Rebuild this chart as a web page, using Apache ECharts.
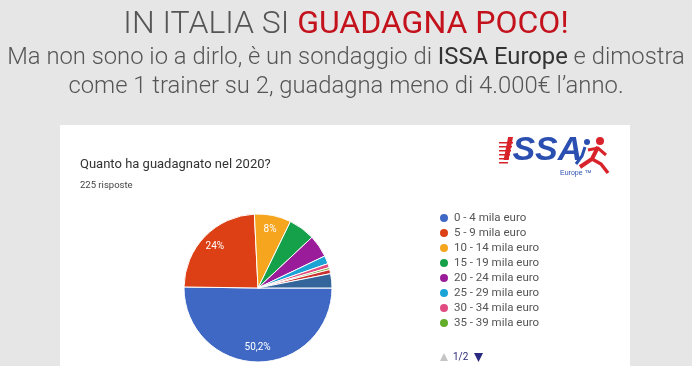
<!DOCTYPE html>
<html><head><meta charset="utf-8">
<script src="https://cdn.jsdelivr.net/npm/echarts@6/dist/echarts.min.js"></script>
<style>html,body{margin:0;padding:0;background:#e6e6e6;}#c{width:692px;height:366px;}</style>
</head><body><div id="c"></div>
<script>
const categories = ['0 - 4 mila euro','5 - 9 mila euro','10 - 14 mila euro','15 - 19 mila euro','20 - 24 mila euro','25 - 29 mila euro','30 - 34 mila euro','35 - 39 mila euro','40 - 44 mila euro','45 - 49 mila euro'];
const values = [113, 54, 18, 13, 11, 4, 2, 1, 2, 7];
const colors = ['#3e68c4','#dc4014','#f6a51e','#15a04a','#9a1c9a','#1ba3d5','#e24b80','#62ad2a','#c9302e','#33659a'];
const legendPage1 = categories.slice(0, 8);
const pagerText = '1/2';

const chart = echarts.init(document.getElementById('c'));
const data = categories.map((n,i)=>({name:n, value:values[i], itemStyle:{color:colors[i]}}));
const fmt = p => p.value >= 15 ? String(Number(p.percent.toFixed(1))).replace('.', ',') + '%' : '';
const red = '#d8232a', blue = '#2b4fb0';
chart.setOption({
  backgroundColor:'#e6e6e6',
  animation:false,
  graphic:[
    {type:'rect', shape:{x:60,y:125,width:570,height:260}, style:{fill:'#ffffff'}, z:-10},
    {type:'group', children:[
      {type:'rect', shape:{x:499,y:142,width:14,height:1.5}, style:{fill:red}},
      {type:'rect', shape:{x:499,y:146,width:13,height:1.5}, style:{fill:red}},
      {type:'rect', shape:{x:499,y:150,width:12,height:1.5}, style:{fill:red}},
      {type:'rect', shape:{x:499,y:154,width:11,height:1.5}, style:{fill:red}},
      {type:'rect', shape:{x:499,y:158,width:10,height:1.5}, style:{fill:red}},
      {type:'rect', shape:{x:499,y:162,width:9,height:1.5}, style:{fill:red}},
      {type:'text', style:{x:503,y:134,text:'{r|I}{b|SSA}',
        rich:{r:{fontFamily:'Liberation Sans',fontStyle:'italic',fontWeight:'bold',fontSize:34,fill:red},
              b:{fontFamily:'Liberation Sans',fontStyle:'italic',fontWeight:'bold',fontSize:34,fill:blue}}}},
      {type:'text', style:{x:560,y:170,text:'Europe \u2122',font:'7px "Liberation Sans"',fill:blue}},
      {type:'circle', shape:{cx:587,cy:142,r:3}, style:{fill:blue}},
      {type:'polyline', shape:{points:[[585,147],[582,156],[576,164]]}, style:{stroke:blue,lineWidth:3,fill:null}},
      {type:'circle', shape:{cx:600,cy:141,r:4}, style:{fill:red}},
      {type:'polyline', shape:{points:[[598,147],[592,159],[580,167]]}, style:{stroke:red,lineWidth:4,fill:null}},
      {type:'polyline', shape:{points:[[592,159],[601,164],[608,173]]}, style:{stroke:red,lineWidth:3.5,fill:null}},
      {type:'polyline', shape:{points:[[588,150],[598,148],[606,155]]}, style:{stroke:red,lineWidth:3,fill:null}}
    ]},
    {type:'group', children:[
      {type:'polygon', shape:{points:[[440,361],[448,361],[444,353]]}, style:{fill:'#c4c4c4'}},
      {type:'text', style:{x:453,y:352,text:pagerText,font:'10px Roboto',fill:'#2a2a7a'}},
      {type:'polygon', shape:{points:[[474,353],[483,353],[478.5,362]]}, style:{fill:'#2a2a80'}}
    ]}
  ],
  title:[
    {text:'{g|IN ITALIA SI }{r|GUADAGNA POCO!}', left:'center', top:4,
     textStyle:{rich:{g:{fontFamily:'Roboto',fontWeight:300,fontSize:32,color:'#555555'},r:{fontFamily:'Roboto',fontWeight:400,fontSize:32,color:'#c4121c'}}}},
    {text:'Ma non sono io a dirlo, è un sondaggio di {b|ISSA Europe} e dimostra', left:'center', top:41,
     textStyle:{fontFamily:'Roboto',fontWeight:300,fontSize:23.8,color:'#555555',
       rich:{b:{fontFamily:'Roboto',fontWeight:400,fontSize:23.8,color:'#333333'}}}},
    {text:'come 1 trainer su 2, guadagna meno di 4.000€ l\u2019anno.', left:'center', top:70,
     textStyle:{fontFamily:'Roboto',fontWeight:300,fontSize:23.8,color:'#555555'}},
    {text:'Quanto ha guadagnato nel 2020?', left:75, top:153, textStyle:{fontFamily:'Roboto',fontWeight:400,fontSize:13,color:'#333333'}},
    {text:'225 risposte', left:75, top:176, textStyle:{fontFamily:'Roboto',fontWeight:400,fontSize:9.5,color:'#444444'}}
  ],
  legend:{type:'plain', orient:'vertical', left:433, top:207, icon:'circle', itemWidth:10, itemHeight:10, itemGap:3,
    textStyle:{fontFamily:'Roboto',fontSize:11.5,color:'#555555'},
    data:legendPage1},
  series:[
    {type:'pie', center:[258,288], radius:74, startAngle:0, clockwise:true, data:data,
     itemStyle:{borderColor:'#ffffff', borderWidth:1}, label:{show:false}, labelLine:{show:false}},
    {type:'pie', center:[258,288], radius:[40,74], startAngle:0, clockwise:true, silent:true, legendHoverLink:false,
     data:categories.map((n,i)=>({name:n+' ', value:values[i]})),
     itemStyle:{color:'rgba(0,0,0,0)'},
     label:{show:true, position:'inside', formatter:fmt, color:'#ffffff', fontFamily:'Roboto', fontSize:10}, labelLine:{show:false}}
  ]
});
</script></body></html>
